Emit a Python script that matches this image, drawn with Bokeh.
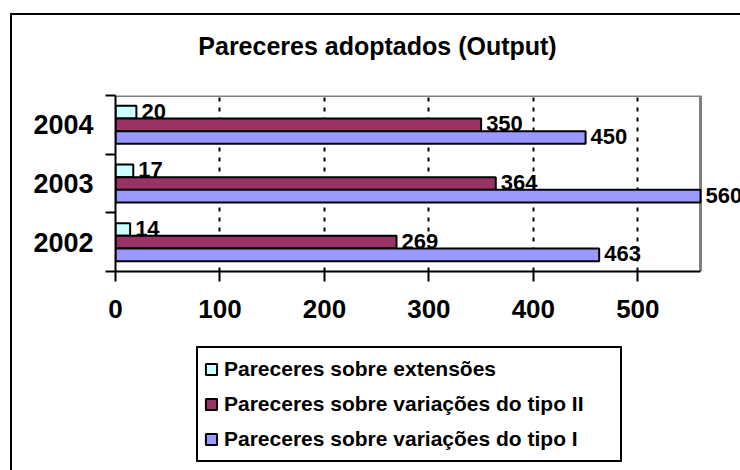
from bokeh.plotting import figure
from bokeh.models import (Range1d, FixedTicker, LabelSet, ColumnDataSource, Legend,
                          LegendItem, Label)
from bokeh.layouts import column
from bokeh.core.properties import value
from bokeh.embed import file_html
from bokeh.resources import INLINE

# ---- data ----
years = ["2002", "2003", "2004"]
extensoes = [14, 17, 20]
variacoes_tipo_ii = [269, 364, 350]
variacoes_tipo_i = [463, 560, 450]
x_ticks = [0, 100, 200, 300, 400, 500]
x_axis_max = 560
series_names = ["Pareceres sobre extensões",
                "Pareceres sobre variações do tipo II",
                "Pareceres sobre variações do tipo I"]
series_colors = ["#CCFFFF", "#993366", "#9999FF"]
title_text = "Pareceres adoptados (Output)"

FONT = "Liberation Sans"
BAR_H = 0.216

# ---- layout (pixels) ----
W = 740
H_TOP, H_MAIN, H_LEG = 80, 260, 130
LEFT = 115
FRAME_TOP, FRAME_BOTTOM = 95, 271          # page pixels
AREA_W = 585                               # pixels for 0..x_axis_max
frame_w = W - LEFT
x_end = x_axis_max * frame_w / AREA_W


def border_css(top_line):
    imgs = ["linear-gradient(#000,#000) 10px %dpx / 2px 100%% no-repeat" % (13 if top_line else 0)]
    if top_line:
        imgs.append("linear-gradient(#000,#000) 10px 13px / 100% 2px no-repeat")
    return {"background": ", ".join(imgs + ["#fff"])}


def blank_fig(height, x_range=None, y_range=None):
    f = figure(width=W, height=height, output_backend="svg", toolbar_location=None,
               x_range=x_range or Range1d(0, 1), y_range=y_range or Range1d(0, 1),
               x_axis_type=None, y_axis_type=None, title_location=None,
               min_border=0, min_border_left=LEFT, min_border_right=0,
               min_border_top=0, min_border_bottom=0,
               background_fill_color=None, border_fill_color=None)
    f.outline_line_color = None
    f.grid.visible = False
    return f


# ---- title strip ----
pt = blank_fig(H_TOP)
pt.styles = border_css(True)
pt.add_layout(Label(x=377 - LEFT, y=H_TOP - 45, x_units="screen", y_units="screen",
                    text=title_text, text_font=FONT, text_font_size="25px",
                    text_font_style="bold", text_color="black",
                    text_align="center", text_baseline="middle"))

# ---- main chart ----
p = figure(width=W, height=H_MAIN, output_backend="svg", toolbar_location=None,
           x_range=Range1d(0, x_end), y_range=Range1d(0, len(years)),
           title_location=None,
           min_border_left=LEFT, min_border_right=0, min_border_top=FRAME_TOP - H_TOP,
           min_border_bottom=H_TOP + H_MAIN - FRAME_BOTTOM,
           background_fill_color="white", border_fill_color=None)
p.styles = border_css(False)
p.outline_line_color = None

p.ygrid.visible = False
p.xgrid.ticker = FixedTicker(ticks=x_ticks[1:])
p.xgrid.grid_line_color = "black"
p.xgrid.grid_line_width = 2
p.xgrid.grid_line_dash = "4 6"

# grey border of the plotting area (top and right)
p.line(x=[0, x_axis_max, x_axis_max], y=[len(years), len(years), 0],
       line_color="#808080", line_width=3)

series = [extensoes, variacoes_tipo_ii, variacoes_tipo_i]
offsets = [BAR_H, 0.0, -BAR_H]
for vals, col, off in zip(series, series_colors, offsets):
    ys = [i + 0.5 + off for i in range(len(years))]
    src = ColumnDataSource(dict(y=ys, v=vals, t=[str(v) for v in vals]))
    p.hbar(y="y", right="v", left=0, height=BAR_H, source=src,
           fill_color=col, line_color="black", line_width=2)
    p.add_layout(LabelSet(x="v", y="y", text="t", source=src, x_offset=5, y_offset=1,
                          text_font=value(FONT), text_font_size=value("22px"),
                          text_font_style="bold", text_color="black",
                          text_baseline="middle", text_align="left"))

xa = p.xaxis[0]
xa.ticker = FixedTicker(ticks=x_ticks)
xa.bounds = (0, x_axis_max)
xa.axis_line_width = 2
xa.axis_line_color = "black"
xa.major_tick_in = 0
xa.major_tick_out = 10
xa.major_tick_line_width = 2
xa.major_tick_line_color = "black"
xa.minor_tick_line_color = None
xa.major_label_text_font = FONT
xa.major_label_text_font_size = "26px"
xa.major_label_text_font_style = "bold"
xa.major_label_text_color = "black"
xa.major_label_standoff = 18

ya = p.yaxis[0]
ya.ticker = FixedTicker(ticks=[i + 0.5 for i in range(len(years))],
                        minor_ticks=list(range(len(years) + 1)))
ya.major_label_overrides = {i + 0.5: y for i, y in enumerate(years)}
ya.axis_line_width = 2
ya.axis_line_color = "black"
ya.major_tick_in = 0
ya.major_tick_out = 0
ya.minor_tick_in = 0
ya.minor_tick_out = 10
ya.minor_tick_line_width = 2
ya.minor_tick_line_color = "black"
ya.major_label_text_font = FONT
ya.major_label_text_font_size = "27px"
ya.major_label_text_font_style = "bold"
ya.major_label_text_color = "black"
ya.major_label_standoff = 12

# ---- legend strip ----
# the legend's sample bars carry the real series but lie outside this strip's view
pl = blank_fig(H_LEG, x_range=Range1d(-2, -1), y_range=Range1d(5, 6))
pl.styles = border_css(False)
items = []
for vals, name, col in zip(series, series_names, series_colors):
    r = pl.hbar(y=[0.5] * len(vals), right=vals, left=0, height=0.1,
                fill_color=col, line_color="black", line_width=2)
    items.append(LegendItem(label=name, renderers=[r]))
leg_h = 3 * 30 + 2 * 5 + 2 * 6
legend = Legend(items=items, location=(196 - LEFT, H_LEG - (350 - (H_TOP + H_MAIN)) - leg_h),
                orientation="vertical",
                label_text_font=FONT, label_text_font_size="21px",
                label_text_font_style="bold", label_text_color="black",
                glyph_width=14, glyph_height=14, label_standoff=6,
                label_height=30, label_width=390, spacing=5, padding=6, margin=0,
                border_line_color="black", border_line_width=2, border_line_alpha=1.0,
                background_fill_color="white", background_fill_alpha=1.0)
pl.add_layout(legend, "center")

layout = column(pt, p, pl, spacing=0)
open("out.html", "w").write(file_html(layout, INLINE))
